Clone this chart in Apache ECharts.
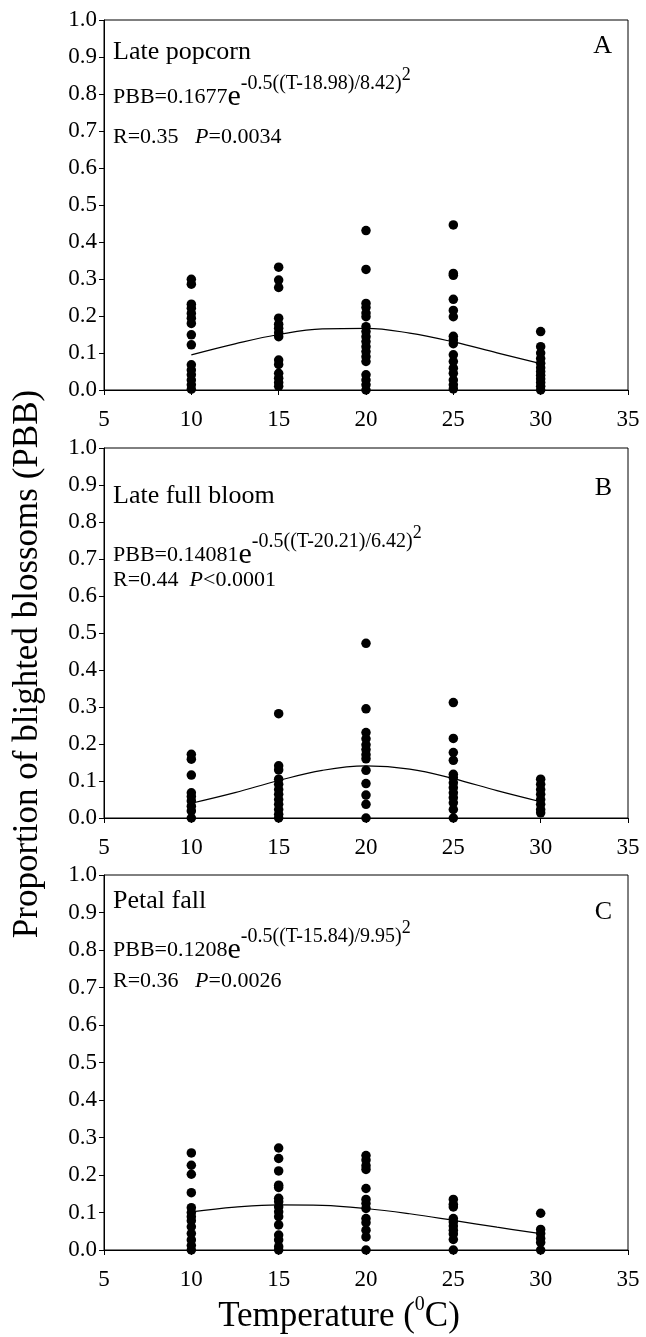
<!DOCTYPE html>
<html>
<head>
<meta charset="utf-8">
<script src="https://cdn.jsdelivr.net/npm/echarts@6/dist/echarts.min.js"></script>
<style>
  html, body { margin: 0; padding: 0; background: #fff; }
  #chart { width: 646px; height: 1337px; }
</style>
</head>
<body>
<div id="chart"></div>
<script>
// Temperatures at which blossoms were incubated
const temperatures = [10, 15, 20, 25, 30];

// Observed proportion of blighted blossoms, one list per temperature
const latePopcorn = [
  [0.299, 0.286, 0.232, 0.221, 0.207, 0.194, 0.180, 0.149, 0.122, 0.068, 0.054, 0.041, 0.027, 0.014, 0.002],
  [0.332, 0.297, 0.277, 0.194, 0.178, 0.167, 0.155, 0.144, 0.081, 0.069, 0.045, 0.032, 0.020, 0.010],
  [0.431, 0.326, 0.234, 0.223, 0.208, 0.198, 0.171, 0.158, 0.144, 0.131, 0.117, 0.104, 0.090, 0.077, 0.041, 0.027, 0.014, 0.0],
  [0.446, 0.315, 0.310, 0.245, 0.215, 0.198, 0.145, 0.135, 0.125, 0.095, 0.077, 0.059, 0.045, 0.027, 0.014, 0.003],
  [0.158, 0.117, 0.100, 0.085, 0.072, 0.060, 0.050, 0.040, 0.030, 0.020, 0.010, 0.0]
];
const lateFullBloom = [
  [0.172, 0.159, 0.116, 0.068, 0.058, 0.046, 0.032, 0.019, 0.0],
  [0.282, 0.141, 0.130, 0.105, 0.091, 0.077, 0.064, 0.050, 0.037, 0.023, 0.010, 0.0],
  [0.472, 0.295, 0.231, 0.214, 0.198, 0.185, 0.171, 0.160, 0.129, 0.093, 0.062, 0.037, 0.0],
  [0.312, 0.215, 0.177, 0.156, 0.118, 0.109, 0.095, 0.082, 0.068, 0.055, 0.041, 0.023, 0.0],
  [0.105, 0.091, 0.077, 0.064, 0.050, 0.037, 0.023, 0.014]
];
const petalFall = [
  [0.259, 0.226, 0.202, 0.153, 0.113, 0.100, 0.089, 0.078, 0.062, 0.044, 0.027, 0.012, 0.0],
  [0.272, 0.244, 0.211, 0.173, 0.167, 0.138, 0.129, 0.115, 0.102, 0.089, 0.067, 0.040, 0.027, 0.009, 0.0],
  [0.252, 0.240, 0.225, 0.215, 0.164, 0.135, 0.124, 0.111, 0.084, 0.073, 0.053, 0.035, 0.0],
  [0.135, 0.122, 0.115, 0.084, 0.075, 0.064, 0.053, 0.043, 0.028, 0.0],
  [0.098, 0.055, 0.044, 0.031, 0.020, 0.0]
];

// Fitted Gaussian curves, sampled every 2.5 degrees
const curveTemps = [10, 12.5, 15, 17.5, 20, 22.5, 25, 27.5, 30];
const latePopcornFit = [0.0949, 0.1247, 0.1500, 0.1651, 0.1665, 0.1537, 0.1299, 0.1005, 0.0712];
const lateFullBloomFit = [0.0398, 0.0685, 0.1013, 0.1288, 0.1407, 0.1321, 0.1066, 0.0739, 0.0440];
const petalFallFit = [0.1017, 0.1142, 0.1204, 0.1191, 0.1107, 0.0966, 0.0791, 0.0608, 0.0439];

// Axis ticks
const xTicks = { min: 5, max: 35, step: 5 };
const yTicks = { min: 0, max: 1, step: 0.1 };

const FONT = 'Liberation Serif';

const panels = [
  { name: 'Late popcorn', letter: 'A', obs: latePopcorn, fit: latePopcornFit,
    coef: '0.1677', expo: '-0.5((T-18.98)/8.42)', stats: ['R=0.35   ', '=0.0034'],
    grid: { top: 20, height: 370 }, nameY: 52, letterY: 46, eqY: 97, rY: 137 },
  { name: 'Late full bloom', letter: 'B', obs: lateFullBloom, fit: lateFullBloomFit,
    coef: '0.14081', expo: '-0.5((T-20.21)/6.42)', stats: ['R=0.44  ', '<0.0001'],
    grid: { top: 448, height: 370 }, nameY: 496, letterY: 488, eqY: 555, rY: 580 },
  { name: 'Petal fall', letter: 'C', obs: petalFall, fit: petalFallFit,
    coef: '0.1208', expo: '-0.5((T-15.84)/9.95)', stats: ['R=0.36   ', '=0.0026'],
    grid: { top: 875, height: 375 }, nameY: 901, letterY: 912, eqY: 950, rY: 981 }
];

const grids = [], xAxes = [], yAxes = [], series = [], graphics = [];

panels.forEach((p, i) => {
  grids.push({ left: 104, width: 524, top: p.grid.top, height: p.grid.height,
    show: true, borderColor: '#000', borderWidth: 1, backgroundColor: 'transparent' });

  xAxes.push({
    type: 'value', gridIndex: i, min: xTicks.min, max: xTicks.max, interval: xTicks.step,
    axisLine: { lineStyle: { color: '#000', width: 1 } },
    axisTick: { inside: false, length: 5, lineStyle: { color: '#000' } },
    axisLabel: { color: '#000', fontFamily: FONT, fontSize: 23, margin: 18 },
    splitLine: { show: false }
  });
  yAxes.push({
    type: 'value', gridIndex: i, min: yTicks.min, max: yTicks.max, interval: yTicks.step,
    axisLine: { show: true, lineStyle: { color: '#000', width: 1 } },
    axisTick: { show: true, inside: false, length: 5, lineStyle: { color: '#000' } },
    axisLabel: { color: '#000', fontFamily: FONT, fontSize: 23, margin: 7,
      formatter: v => v.toFixed(1) },
    splitLine: { show: false }
  });

  const pts = [];
  temperatures.forEach((t, k) => p.obs[k].forEach(v => pts.push([t, v])));
  series.push({
    type: 'scatter', xAxisIndex: i, yAxisIndex: i, data: pts,
    symbol: 'circle', symbolSize: 9.5, itemStyle: { color: '#000', opacity: 1 }, z: 3
  });
  series.push({
    type: 'line', xAxisIndex: i, yAxisIndex: i,
    data: curveTemps.map((t, k) => [t, p.fit[k]]),
    smooth: 0.4, showSymbol: false, lineStyle: { color: '#000', width: 1.2 }, z: 2
  });

  // Panel captions
  graphics.push({ type: 'text', x: 113, y: p.nameY, style: {
    text: p.name, font: '26px "' + FONT + '"', fill: '#000', verticalAlign: 'middle' } });
  graphics.push({ type: 'text', x: 612, y: p.letterY, style: {
    text: p.letter, font: '26px "' + FONT + '"', fill: '#000', align: 'right', verticalAlign: 'middle' } });
  graphics.push({ type: 'text', left: 113, top: p.eqY - 31, style: {
    text: '{m|PBB=' + p.coef + '}{e|e}{s|' + p.expo + '}{q|2}',
    rich: {
      m: { fontFamily: FONT, fontSize: 22, fill: '#000' },
      e: { fontFamily: FONT, fontSize: 30, fill: '#000' },
      s: { fontFamily: FONT, fontSize: 20, fill: '#000', padding: [0, 0, 26, 0] },
      q: { fontFamily: FONT, fontSize: 18, fill: '#000', padding: [0, 0, 44, 0] }
    } } });
  graphics.push({ type: 'text', x: 113, y: p.rY, style: {
    text: '{m|' + p.stats[0] + '}{i|P}{m|' + p.stats[1] + '}',
    verticalAlign: 'middle',
    rich: {
      m: { fontFamily: FONT, fontSize: 22, fill: '#000' },
      i: { fontFamily: FONT, fontSize: 22, fontStyle: 'italic', fill: '#000' }
    } } });
});

// Shared axis titles
graphics.push({ type: 'text', x: 28, y: 664, rotation: Math.PI / 2,
  style: { text: 'Proportion of blighted blossoms (PBB)', font: '35px "' + FONT + '"',
    fill: '#000', align: 'center', verticalAlign: 'middle' } });
graphics.push({ type: 'text', x: 339, y: 1317, style: {
  text: '{m|Temperature (}{s|0}{m|C)}',
  align: 'center', verticalAlign: 'middle',
  rich: {
    m: { fontFamily: FONT, fontSize: 35, fill: '#000' },
    s: { fontFamily: FONT, fontSize: 20, fill: '#000', padding: [0, 0, 24, 0] }
  } } });

const chart = echarts.init(document.getElementById('chart'), null, { renderer: 'canvas' });
chart.setOption({
  animation: false,
  backgroundColor: '#fff',
  grid: grids, xAxis: xAxes, yAxis: yAxes, series: series, graphic: graphics
});
</script>
</body>
</html>
